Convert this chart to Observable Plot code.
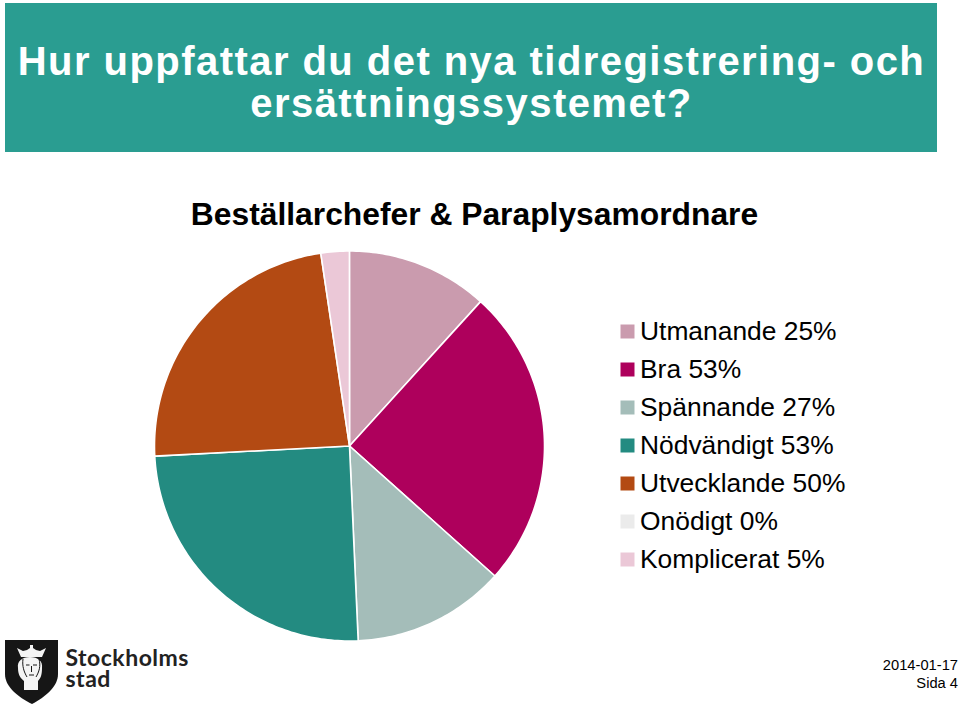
<!DOCTYPE html>
<html lang="sv">
<head>
<meta charset="utf-8">
<script src="https://cdn.jsdelivr.net/npm/d3@7"></script>
<script src="https://cdn.jsdelivr.net/npm/@observablehq/plot@0.6"></script>
<style>
html,body{margin:0;padding:0;background:#fff;}
#page{position:relative;width:960px;height:705px;overflow:hidden;font-family:"Liberation Sans",Arial,sans-serif;color:#000;}
#banner{position:absolute;left:5px;top:3px;width:932px;height:149px;background:#2a9d91;}
#title{position:absolute;left:0;top:40px;width:943px;text-align:center;color:#fff;font-weight:bold;font-size:40px;line-height:42px;letter-spacing:1.45px;white-space:nowrap;}
#sub{position:absolute;left:0;top:195px;width:949px;text-align:center;font-weight:bold;font-size:31.8px;line-height:38px;white-space:nowrap;}
#pie,#legend,#logo{position:absolute;left:0;top:0;}
#foot{position:absolute;right:2px;top:656px;text-align:right;font-size:14.7px;line-height:18px;}
svg{display:block;}
</style>
</head>
<body>
<div id="page">
  <div id="banner"></div>
  <div id="title">Hur uppfattar du det nya tidregistrering- och<br>ersättningssystemet?</div>
  <div id="sub">Beställarchefer &amp; Paraplysamordnare</div>
  <div id="pie"></div>
  <div id="legend"></div>
  <svg id="logo" width="220" height="705" viewBox="0 0 220 705">
    <path d="M5 640H58V674C58 687 45 697 32 704C18 697 5 687 5 674Z" fill="#161616"/>
    <path d="M18 668C17 661 22 657 30 657C38 657 43 661 42 668C42 674 41 678 38 681V690H24V681C20 678 18 674 18 668Z" fill="#f4f4f4"/>
    <path d="M17 648L23 651L27 650L30 648V645H33V648L36 650L40 651L46 648L42 657H21Z" fill="#f4f4f4"/>
    <path d="M23 659C22 666 24 672 27 677M39 659C41 666 39 672 36 677M26 665H29.500M33 665H37M31.500 666V672M29 675H34" stroke="#161616" stroke-width="1" fill="none"/>
    <text x="65.500" y="666" font-family="Lato" font-weight="700" font-size="23" letter-spacing="0.5" fill="#222">Stockholms</text>
    <text x="65.500" y="687" font-family="Lato" font-weight="700" font-size="23" letter-spacing="0.5" fill="#222">stad</text>
  </svg>
  <div id="foot">2014-01-17<br>Sida 4</div>
</div>
<script>
const categories = ["Utmanande","Bra","Spännande","Nödvändigt","Utvecklande","Onödigt","Komplicerat"];
const values = [25,53,27,53,50,0,5];
const colors = ["#ca9bae","#ae005c","#a4bdb9","#238b81","#b34a13","#ebebeb","#ebc8d7"];

const colorScale = {domain: categories, range: colors};
const total = d3.sum(values);

// Pie: wedges on an azimuthal projection centred on the pole; longitude is the slice angle.
let acc = 0;
const slices = categories.map((name, i) => {
  const a0 = acc / total * 360;
  acc += values[i];
  const a1 = acc / total * 360;
  const ring = [[0, 90]];
  const n = Math.max(2, Math.ceil(a1 - a0));
  for (let k = 0; k <= n; k++) ring.push([90 - (a0 + (a1 - a0) * k / n), 60]);
  ring.push([0, 90]);
  return {name, value: values[i], geometry: {type: "Polygon", coordinates: [ring]}};
}).filter(d => d.value > 0);

// The frame is a little larger than the pie so the wedges never touch the clip rectangle;
// the tiny extra rotation keeps the 12 o'clock edge off the projection's degenerate meridian.
const pie = Plot.plot({
  width: 960, height: 705,
  marginLeft: 149, marginRight: 411, marginTop: 245.5, marginBottom: 59.5,
  projection: {type: "azimuthal-equidistant", rotate: [90.02, -90], domain: d3.geoCircle().center([0, 90]).radius(30 * 200 / 195)()},
  color: colorScale,
  marks: [
    Plot.geo(slices, {geometry: d => d.geometry, fill: "name", stroke: "#fff", strokeWidth: 1.6, strokeLinejoin: "round"})
  ]
});
document.getElementById("pie").append(pie);

// Legend
const rows = categories.map((name, i) => ({name, label: `${name} ${values[i]}%`}));
const legend = Plot.plot({
  width: 960, height: 705, margin: 0,
  x: {type: "identity", axis: null},
  y: {type: "point", domain: categories, range: [330.3, 560], padding: 0, axis: null},
  color: colorScale,
  style: {background: "transparent"},
  marks: [
    Plot.dot(rows, {x: () => 627, y: "name", fill: "name", symbol: "square", r: 7.9}),
    Plot.text(rows, {x: () => 639.5, y: "name", text: "label", textAnchor: "start", fontSize: 26.4, fontFamily: "Liberation Sans, Arial, sans-serif", fill: "#000"})
  ]
});
document.getElementById("legend").append(legend);
</script>
</body>
</html>
